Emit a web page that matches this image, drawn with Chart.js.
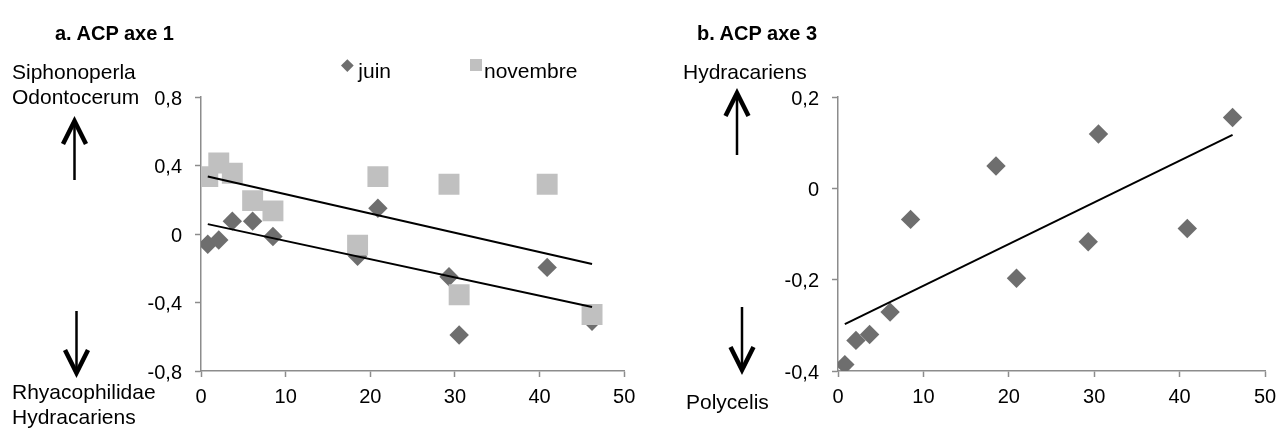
<!DOCTYPE html>
<html lang="fr">
<head>
<meta charset="utf-8">
<title>ACP axes 1 et 3</title>
<script src="https://cdn.jsdelivr.net/npm/chart.js@4.4.0/dist/chart.umd.min.js"></script>
<style>
  html, body { margin: 0; padding: 0; background: #fff; }
  #page { position: relative; width: 1278px; height: 428px; overflow: hidden;
          font-family: "Liberation Sans", Arial, sans-serif; color: #000; }
  #page canvas { position: absolute; top: 0; }
  .lbl { position: absolute; white-space: nowrap; font-size: 21px; line-height: 21px; }
  .titre { font-weight: bold; font-size: 20px; line-height: 20px; }
  .ico { position: absolute; }
  svg { position: absolute; left: 0; top: 0; pointer-events: none; }
</style>
</head>
<body>
<div id="page">
  <canvas id="axe1" width="639" height="428" style="left:0"></canvas>
  <canvas id="axe3" width="639" height="428" style="left:639px"></canvas>

  <div class="lbl titre" style="left:55px;top:23px">a. ACP axe 1</div>
  <div class="lbl titre" style="left:697px;top:23px">b. ACP axe 3</div>

  <div class="lbl" style="left:12px;top:61px">Siphonoperla</div>
  <div class="lbl" style="left:12px;top:86px">Odontocerum</div>
  <div class="lbl" style="left:12px;top:381px">Rhyacophilidae</div>
  <div class="lbl" style="left:12px;top:406px">Hydracariens</div>

  <div class="lbl" style="left:683px;top:61px">Hydracariens</div>
  <div class="lbl" style="left:686px;top:391px">Polycelis</div>

  <div id="legende"></div>

  <svg width="1278" height="428">
    <g stroke="#000" fill="none">
      <!-- flèches vers le haut -->
      <line x1="74.5" y1="180" x2="74.5" y2="123" stroke-width="2.5"/>
      <polyline points="63,144 74.5,121 86,144" stroke-width="4.5"/>
      <line x1="737" y1="155" x2="737" y2="95" stroke-width="2.5"/>
      <polyline points="725.5,116 737,93 748.5,116" stroke-width="4.5"/>
      <!-- flèches vers le bas -->
      <line x1="76.5" y1="311" x2="76.5" y2="372" stroke-width="2.5"/>
      <polyline points="65,350 76.5,373 88,350" stroke-width="4.5"/>
      <line x1="742" y1="307" x2="742" y2="369" stroke-width="2.5"/>
      <polyline points="730.5,347 742,370 753.5,347" stroke-width="4.5"/>
    </g>
  </svg>
</div>

<script>
// distance à la source (axe x), identique pour toutes les séries
const distances = [0.8, 2.1, 3.7, 6.1, 8.5, 18.5, 20.9, 29.3, 30.5, 40.9, 46.2];

// coordonnées sur l'axe 1 de l'ACP
const axe1Juin = [-0.06, -0.035, 0.075, 0.075, -0.015, -0.13, 0.15, -0.25, -0.59, -0.195, -0.51];
const axe1Novembre = [0.335, 0.415, 0.355, 0.195, 0.135, -0.065, 0.335, 0.29, -0.355, 0.29, -0.47];

// coordonnées sur l'axe 3 de l'ACP (juin seulement)
const axe3Juin = [-0.386, -0.333, -0.32, -0.271, -0.068, 0.049, -0.197, -0.117, 0.119, -0.088, 0.155];

// graduations
const xTicks = [0, 10, 20, 30, 40, 50];
const axe1Ticks = [-0.8, -0.4, 0, 0.4, 0.8];
const axe3Ticks = [-0.4, -0.2, 0, 0.2];

const couleurJuin = '#6e6e6e';
const couleurNovembre = '#c0c0c0';
const couleurAxe = '#8c8c8c';
const police = "'Liberation Sans', Arial, sans-serif";

function points(ys) {
  return distances.map((x, i) => ({ x: x, y: ys[i] }));
}

// droite des moindres carrés, tracée du premier au dernier point
function tendance(ys) {
  const n = distances.length;
  const mx = distances.reduce((s, v) => s + v, 0) / n;
  const my = ys.reduce((s, v) => s + v, 0) / n;
  let sxy = 0, sxx = 0;
  distances.forEach((x, i) => {
    sxy += (x - mx) * (ys[i] - my);
    sxx += (x - mx) * (x - mx);
  });
  const pente = sxy / sxx;
  const b = my - pente * mx;
  const x0 = Math.min(...distances), x1 = Math.max(...distances);
  return [{ x: x0, y: b + pente * x0 }, { x: x1, y: b + pente * x1 }];
}

function virgule(v) {
  return String(+v.toFixed(1)).replace('.', ',');
}

function serieTendance(ys) {
  return {
    label: 'tendance', data: tendance(ys), showLine: true,
    borderColor: '#000', borderWidth: 2, pointRadius: 0, order: 0
  };
}

function serieJuin(ys) {
  return {
    label: 'juin', data: points(ys), pointStyle: 'rectRot', pointRadius: 9.7,
    backgroundColor: couleurJuin, borderWidth: 0, order: 2
  };
}

function serieNovembre(ys) {
  return {
    label: 'novembre', data: points(ys), pointStyle: 'rect', pointRadius: 14.8,
    backgroundColor: couleurNovembre, borderWidth: 0, order: 1
  };
}

function nuage(id, datasets, yTicks, largeurY, margeDroite) {
  const grille = { drawOnChartArea: false, drawTicks: true, tickLength: 6, tickWidth: 1.5, color: couleurAxe };
  return new Chart(document.getElementById(id), {
    type: 'scatter',
    data: { datasets: datasets },
    options: {
      responsive: false,
      animation: false,
      events: [],
      layout: { padding: { left: 0, right: margeDroite, top: 97, bottom: 0 } },
      plugins: { legend: { display: false }, tooltip: { enabled: false } },
      scales: {
        x: {
          type: 'linear',
          min: xTicks[0], max: xTicks[xTicks.length - 1],
          afterBuildTicks: s => { s.ticks = xTicks.map(v => ({ value: v })); },
          // hauteur fixe, marges latérales gérées par layout.padding
          afterFit: s => { s.height = 57; s.paddingLeft = 0; s.paddingRight = 0; },
          ticks: { color: '#000', font: { family: police, size: 20 }, padding: 8 },
          grid: grille,
          border: { color: couleurAxe, width: 1.5 }
        },
        y: {
          min: yTicks[0], max: yTicks[yTicks.length - 1],
          afterBuildTicks: s => { s.ticks = yTicks.map(v => ({ value: v })); },
          afterFit: s => { s.width = largeurY; },
          ticks: { color: '#000', font: { family: police, size: 20 }, padding: 13, labelOffset: 2, callback: v => virgule(v) },
          grid: grille,
          border: { color: couleurAxe, width: 1.5 }
        }
      }
    }
  });
}

const chartA = nuage('axe1', [
  serieTendance(axe1Novembre),
  serieTendance(axe1Juin),
  serieNovembre(axe1Novembre),
  serieJuin(axe1Juin)
], axe1Ticks, 201, 11);

const chartB = nuage('axe3', [
  serieTendance(axe3Juin),
  serieJuin(axe3Juin)
], axe3Ticks, 199, 13);

// légende du graphique a
const legende = document.getElementById('legende');
[
  { texte: 'juin', couleur: couleurJuin, cx: 347.7, tx: 358.3, taille: 8.7, angle: 45 },
  { texte: 'novembre', couleur: couleurNovembre, cx: 475.7, tx: 484, taille: 12, angle: 0 }
].forEach(it => {
  const ico = document.createElement('div');
  ico.className = 'ico';
  ico.style.cssText = `left:${it.cx - it.taille / 2}px;top:${65 - it.taille / 2}px;width:${it.taille}px;height:${it.taille}px;background:${it.couleur};transform:rotate(${it.angle}deg)`;
  legende.appendChild(ico);
  const txt = document.createElement('div');
  txt.className = 'lbl';
  txt.style.left = it.tx + 'px';
  txt.style.top = '60px';
  txt.textContent = it.texte;
  legende.appendChild(txt);
});
</script>
</body>
</html>
